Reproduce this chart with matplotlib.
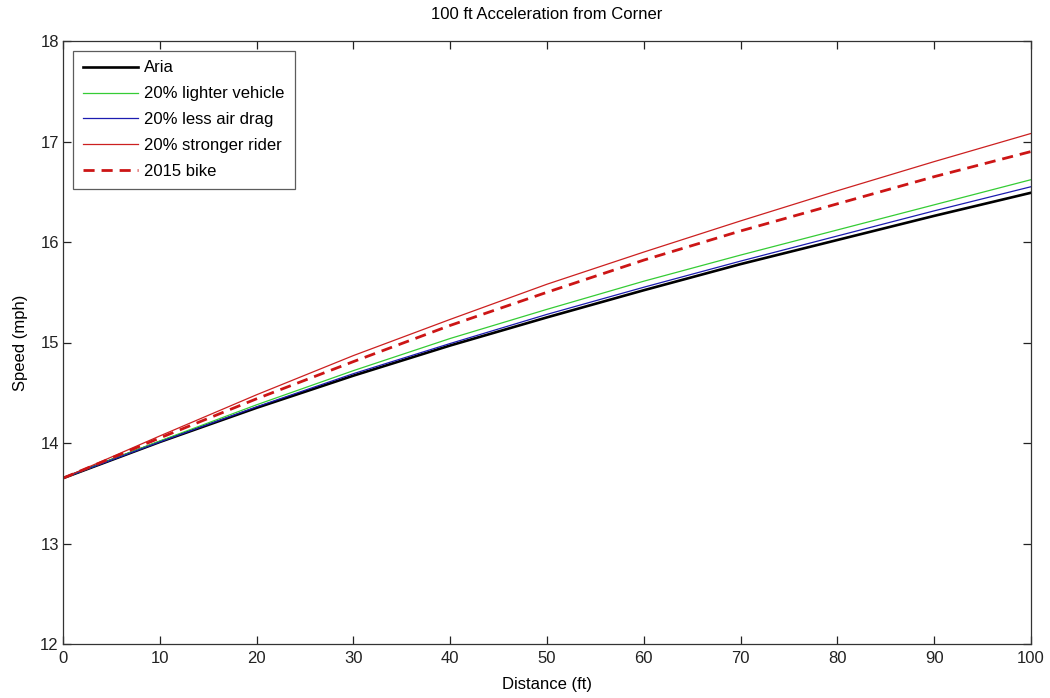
import matplotlib
matplotlib.use("Agg")
import matplotlib.pyplot as plt

plt.rcParams['font.family'] = ['Liberation Sans', 'DejaVu Sans']

distance = [0, 10, 20, 30, 40, 50, 60, 70, 80, 90, 100]
aria = [13.65, 14.01, 14.35, 14.67, 14.97, 15.25, 15.52, 15.78, 16.02, 16.26, 16.49]
lighter = [13.65, 14.02, 14.38, 14.72, 15.04, 15.33, 15.61, 15.87, 16.12, 16.37, 16.62]
less_drag = [13.65, 14.01, 14.36, 14.69, 14.99, 15.28, 15.55, 15.81, 16.06, 16.31, 16.55]
stronger = [13.65, 14.07, 14.48, 14.87, 15.23, 15.58, 15.90, 16.21, 16.51, 16.80, 17.08]
bike2015 = [13.65, 14.05, 14.44, 14.81, 15.17, 15.50, 15.82, 16.11, 16.38, 16.65, 16.90]

labels = ["Aria", "20% lighter vehicle", "20% less air drag", "20% stronger rider", "2015 bike"]
xticks = [0, 10, 20, 30, 40, 50, 60, 70, 80, 90, 100]
yticks = [12, 13, 14, 15, 16, 17, 18]

fig = plt.figure(figsize=(10.5, 6.98), dpi=100)
ax = fig.add_axes([63/1050, 1-644/698, (1031-63)/1050, (644-41)/698])

ax.plot(distance, aria, color='black', lw=1.9, label=labels[0])
ax.plot(distance, lighter, color='#35cc35', lw=0.9, label=labels[1])
ax.plot(distance, less_drag, color='#1c1cb0', lw=0.9, label=labels[2])
ax.plot(distance, stronger, color='#cc2020', lw=0.9, label=labels[3])
ax.plot(distance, bike2015, color='#cc1515', lw=2.0, dashes=(4, 2.5), label=labels[4])

ax.set_xlim(0, 100)
ax.set_ylim(12, 18)
ax.set_xticks(xticks)
ax.set_yticks(yticks)
ax.tick_params(direction='in', top=True, right=True, length=6, width=0.9,
               labelsize=12, colors='#222222', pad=3)
ax.tick_params(axis='x', pad=5)
for s in ax.spines.values():
    s.set_color('#333333')
    s.set_linewidth(0.9)

ax.set_title("100 ft Acceleration from Corner", fontsize=12, pad=15.5)
ax.set_xlabel("Distance (ft)", fontsize=12, labelpad=8)
ax.set_ylabel("Speed (mph)", fontsize=12, labelpad=9)

leg = ax.legend(loc='upper left', bbox_to_anchor=(0.0, 1.0), fontsize=12,
                handlelength=3.3, handletextpad=0.4, labelspacing=0.65,
                borderpad=0.6, borderaxespad=0.57, fancybox=False, frameon=True)
leg.get_frame().set_edgecolor('#333333')
leg.get_frame().set_linewidth(0.9)

fig.savefig("out.png", dpi=100)
